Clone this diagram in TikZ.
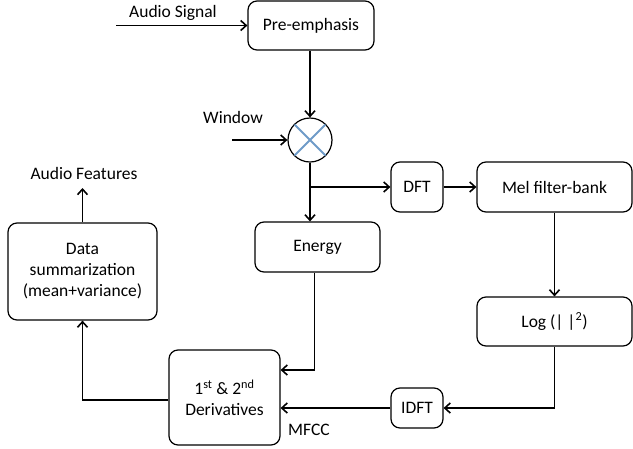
\documentclass[tikz,border=0pt]{standalone}
\usepackage{fontspec}
\setmainfont{Carlito}
\usetikzlibrary{arrows.meta,calc}
\definecolor{crossblue}{RGB}{110,155,200}
\tikzset{
  box/.style={draw, rounded corners=9pt, line width=1.2pt, align=center, inner sep=0pt, font=\fontsize{17.5}{21}\selectfont},
  conn/.style={line width=1.9pt, -{Straight Barb[length=5.5pt,width=10pt,line width=1.6pt]}},
  lbl/.style={font=\fontsize{17.5}{21}\selectfont, inner sep=0pt}
}
\begin{document}
\begin{tikzpicture}[x=1pt,y=1pt]
\useasboundingbox (0,0) rectangle (633,-448);
% boxes
\node[box, minimum width=126pt, minimum height=49pt] (pre) at (311,-25.5) {Pre-emphasis};
\node[draw, circle, line width=1.2pt, minimum size=44pt, inner sep=0pt] (mult) at (310,-140) {};
\draw[crossblue, line width=1.8pt] ($(mult)+(-15.5,15.5)$) coordinate (c1) -- ($(mult)+(15.5,-15.5)$) coordinate (c2);
\draw[crossblue, line width=1.8pt] ($(mult)+(-15.5,-15.5)$) coordinate (c3) -- ($(mult)+(15.5,15.5)$) coordinate (c4);
\node[box, minimum width=52pt, minimum height=50pt] (dft) at (417,-187) {DFT};
\node[box, minimum width=155pt, minimum height=50pt] (mel) at (554.5,-187) {Mel filter-bank};
\node[box, minimum width=155pt, minimum height=49pt] (log) at (554.5,-321.5) {Log (| |\textsuperscript{2})};
\node[box, minimum width=52pt, minimum height=40pt] (idft) at (417,-408) {IDFT};
\node[box, minimum width=125pt, minimum height=50pt] (energy) at (317.5,-247) {Energy};
\node[box, minimum width=111pt, minimum height=95pt] (deriv) at (224.5,-397.5) {1\textsuperscript{st} \& 2\textsuperscript{nd}\\Derivatives};
\node[box, minimum width=149pt, minimum height=97pt] (data) at (82.5,-271.5) {Data\\summarization\\(mean+variance)};
% labels
\node[lbl] (lsig) at (173,-13) {Audio Signal};
\node[lbl] (lwin) at (233,-117) {Window};
\node[lbl] (lfeat) at (84,-173) {Audio Features};
\node[lbl] (lmfcc) at (309,-430) {MFCC};
% free ends
\coordinate (sigin) at (116,-25.5);
\coordinate (winin) at (232,-140);
\coordinate (featout) at (82.5,-188);
\coordinate (j) at (310,-187);
% connectors
\draw[conn] (sigin) -- (pre.west);
\draw[conn] (mult.north |- pre.south) -- (mult.north);
\draw[conn] (winin) -- (mult.west);
\draw[conn] (mult.south) -- (mult.south |- energy.north);
\draw[conn] (j) -- (dft.west);
\draw[conn] (dft.east) -- (mel.west);
\draw[conn] (mel.south) -- (log.north);
\draw[conn] (log.south) |- (idft.east);
\draw[conn] (idft.west) -- (idft.west -| deriv.east);
\draw[conn] ($(energy.south)+(-3,0)$) |- ($(deriv.east)+(0,27.5)$);
\draw[conn] ($(deriv.west)+(0,-2.5)$) -| (data.south);
\draw[conn] (data.north) -- (featout);
\end{tikzpicture}
\end{document}
